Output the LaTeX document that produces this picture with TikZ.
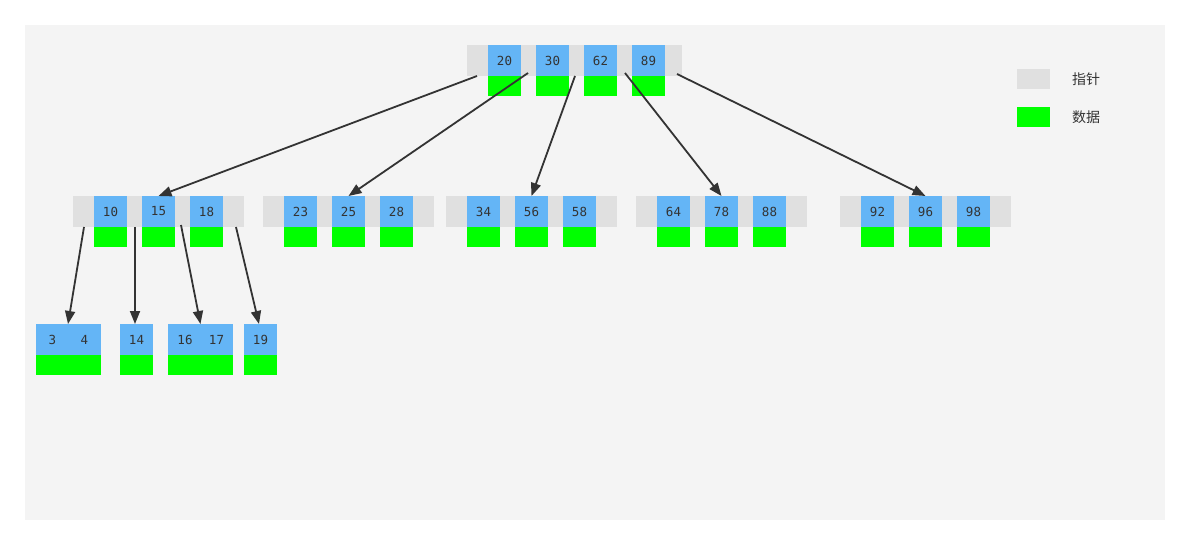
\documentclass[tikz,border=0pt]{standalone}
\usepackage{fontspec}
\setmainfont{DejaVu Sans Mono}
\newfontfamily\cjk{Noto Sans CJK SC}
\usetikzlibrary{arrows.meta}
\definecolor{panel}{HTML}{F4F4F4}
\definecolor{ptrgray}{HTML}{E0E0E0}
\definecolor{keyblue}{HTML}{64B5F6}
\definecolor{datagreen}{HTML}{00FF00}
\definecolor{ink}{HTML}{333333}

% key cell (blue) with its data cell (green) hanging below
\newcommand\cellpair[4]{%
  \node[keycell, anchor=north west] (#1) at (#2,#3) {#4};
  \node[datacell, anchor=north] (#1d) at (#1.south) {};}

\begin{document}
\begin{tikzpicture}[x=1pt, y=-1pt,
  every node/.style={inner sep=0pt, outer sep=0pt, text=ink, font=\fontsize{12.5}{14}\selectfont},
  ptrbar/.style={fill=ptrgray, minimum height=31pt},
  keycell/.style={fill=keyblue, minimum width=33pt, minimum height=31pt},
  datacell/.style={fill=datagreen, minimum width=33pt, minimum height=20pt},
  link/.style={draw=ink, line width=1.8pt, -{Triangle[length=13pt, width=10pt]}}]

\useasboundingbox (0,0) rectangle (1190,545);
\fill[panel] (25,25) rectangle (1165,520);

% root
\node[ptrbar, minimum width=215pt, anchor=north west] (root) at (467,45) {};
\cellpair{k20}{488}{45}{20}
\cellpair{k30}{536}{45}{30}
\cellpair{k62}{584}{45}{62}
\cellpair{k89}{632}{45}{89}

% second level
\node[ptrbar, minimum width=171pt, anchor=north west] (na) at (73,196) {};
\cellpair{k10}{94}{196}{10}
\cellpair{k15}{142}{196}{15}
\cellpair{k18}{190}{196}{18}

\node[ptrbar, minimum width=171pt, anchor=north west] (nb) at (263,196) {};
\cellpair{k23}{284}{196}{23}
\cellpair{k25}{332}{196}{25}
\cellpair{k28}{380}{196}{28}

\node[ptrbar, minimum width=171pt, anchor=north west] (nc) at (446,196) {};
\cellpair{k34}{467}{196}{34}
\cellpair{k56}{515}{196}{56}
\cellpair{k58}{563}{196}{58}

\node[ptrbar, minimum width=171pt, anchor=north west] (nd) at (636,196) {};
\cellpair{k64}{657}{196}{64}
\cellpair{k78}{705}{196}{78}
\cellpair{k88}{753}{196}{88}

\node[ptrbar, minimum width=171pt, anchor=north west] (ne) at (840,196) {};
\cellpair{k92}{861}{196}{92}
\cellpair{k96}{909}{196}{96}
\cellpair{k98}{957}{196}{98}

% leaves
\node[keycell, minimum width=65pt, anchor=north west] (l34) at (36,324) {};
\node[datacell, minimum width=65pt, anchor=north] (l34d) at (l34.south) {};
\node (t3) at (52.5,340) {3};
\node (t4) at (84.5,340) {4};

\cellpair{l14}{120}{324}{14}

\node[keycell, minimum width=65pt, anchor=north west] (l1617) at (168,324) {};
\node[datacell, minimum width=65pt, anchor=north] (l1617d) at (l1617.south) {};
\node (t16) at (185,340) {16};
\node (t17) at (216.5,340) {17};

\cellpair{l19}{244}{324}{19}

% pointer positions
\coordinate (p0) at (477,76);
\coordinate (p1) at (528,73);
\coordinate (p2) at (575,76);
\coordinate (p3) at (625,73);
\coordinate (p4) at (677,74);
\coordinate (q0) at (84,227);
\coordinate (q1) at (135,227);
\coordinate (q2) at (181,225);
\coordinate (q3) at (236,227);

\draw[link] (p0) -- (k15.north);
\draw[link] (p1) -- (k25.north);
\draw[link] (p2) -- (k56.north);
\draw[link] (p3) -- (k78.north);
\draw[link] (p4) -- (k96.north);
\draw[link] (q0) -- ([xshift=-0.5pt]l34.north);
\draw[link] (q1) -- ([xshift=-1.5pt]l14.north);
\draw[link] (q2) -- (l1617.north);
\draw[link] (q3) -- ([xshift=-1.5pt]l19.north);

% legend
\node[ptrbar, minimum width=33pt, minimum height=20pt, anchor=north west] (legp) at (1017,69) {};
\node[fill=datagreen, minimum width=33pt, minimum height=20pt, anchor=north west] (legd) at (1017,107) {};
\node[font=\cjk\fontsize{14}{16}\selectfont] (legpt) at (1086,79) {指针};
\node[font=\cjk\fontsize{14}{16}\selectfont] (legdt) at (1086,117) {数据};
\end{tikzpicture}
\end{document}
